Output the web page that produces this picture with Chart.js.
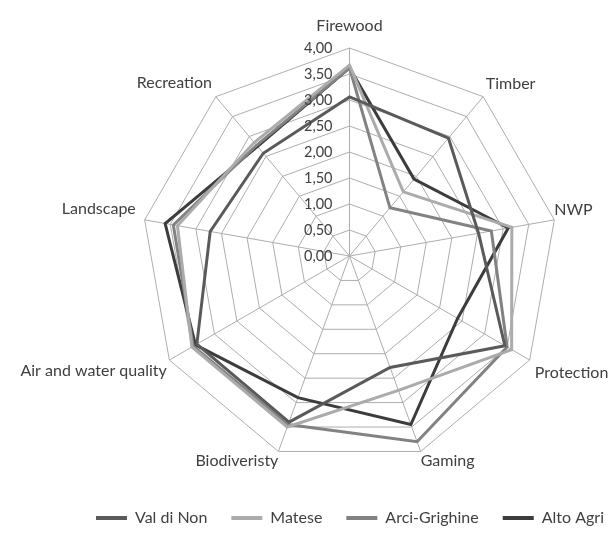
<!DOCTYPE html>
<html>
<head>
<meta charset="utf-8">
<script src="https://cdn.jsdelivr.net/npm/chart.js@4/dist/chart.umd.min.js"></script>
<style>
    html, body { margin: 0; padding: 0; background: #fff; }
    #wrap { width: 614px; height: 536px; position: relative; }
</style>
</head>
<body>
<div id="wrap"><canvas id="radarChart"></canvas></div>
<script>
// ── DATA ──
const categories = ['Firewood', 'Timber', 'NWP', 'Protection', 'Gaming', 'Biodiveristy', 'Air and water quality', 'Landscape', 'Recreation'];
const tickValues = [0, 0.5, 1, 1.5, 2, 2.5, 3, 3.5, 4];

const valDiNon     = [3.06, 2.96, 2.52, 3.45, 2.28, 3.40, 3.39, 2.72, 2.58];
const matese       = [3.67, 1.61, 3.17, 3.60, 2.75, 3.50, 3.50, 3.36, 2.85];
const arciGrighine = [3.62, 1.21, 2.77, 3.50, 3.80, 3.45, 3.47, 3.44, 2.78];
const altoAgri     = [3.62, 1.93, 3.10, 2.40, 3.45, 2.90, 3.42, 3.60, 2.75];

// ── LAYOUT ──
const CX = 349.5, CY = 256, RADIUS = 208;
const labelPad = [13, 4, 0, 6, 0, 0, 3, 9, 6];
const FONT = 'Lato';
const TEXT = '#404040';
const GRID = '#adadad';

function series(label, data, color) {
    return { label, data, borderColor: color, backgroundColor: color, fill: false, borderWidth: 3, pointRadius: 0, pointHoverRadius: 0 };
}

// tick labels sit left of the vertical axis, like the original
const tickLabelPlugin = {
    id: 'tickLabels',
    afterDatasetsDraw(chart) {
        const r = chart.scales.r;
        const ctx = chart.ctx;
        ctx.save();
        ctx.font = '14.5px ' + FONT;
        ctx.fillStyle = TEXT;
        ctx.textAlign = 'right';
        ctx.textBaseline = 'middle';
        r.ticks.forEach(t => {
            const y = r.yCenter - r.getDistanceFromCenterForValue(t.value);
            ctx.fillText(t.value.toFixed(2).replace('.', ','), r.xCenter - 17, y);
        });
        ctx.restore();
    }
};

new Chart(document.getElementById('radarChart'), {
    type: 'radar',
    data: {
        labels: categories,
        datasets: [
            series('Val di Non', valDiNon, '#5a5a5a'),
            series('Matese', matese, '#ababab'),
            series('Arci-Grighine', arciGrighine, '#828282'),
            series('Alto Agri', altoAgri, '#3c3c3c')
        ]
    },
    options: {
        responsive: true,
        maintainAspectRatio: false,
        animation: false,
        // legend runs off the right edge in the original
        layout: { padding: { left: 40, right: -46, bottom: 0 } },
        plugins: {
            tooltip: { enabled: false },
            legend: {
                position: 'bottom',
                labels: {
                    color: TEXT,
                    font: { family: FONT, size: 16 },
                    boxWidth: 31,
                    boxHeight: 4,
                    padding: 24,
                    generateLabels: chart => Chart.defaults.plugins.legend.labels.generateLabels(chart)
                        .map(l => Object.assign(l, { lineWidth: 0, fillStyle: l.strokeStyle }))
                }
            }
        },
        scales: {
            r: {
                min: 0,
                max: 4,
                afterBuildTicks: s => { s.ticks = tickValues.map(v => ({ value: v })); },
                afterSetDimensions: s => {
                    s.setCenterPoint = function () {
                        this.xCenter = CX;
                        this.yCenter = CY;
                        this.drawingArea = RADIUS;
                    };
                },
                ticks: { display: false },
                grid: { color: GRID, lineWidth: 1, circular: false },
                angleLines: { color: GRID, lineWidth: 1 },
                pointLabels: {
                    color: TEXT,
                    font: { family: FONT, size: 16 },
                    padding: ctx => labelPad[ctx.index]
                }
            }
        }
    },
    plugins: [tickLabelPlugin]
});
</script>
</body>
</html>
